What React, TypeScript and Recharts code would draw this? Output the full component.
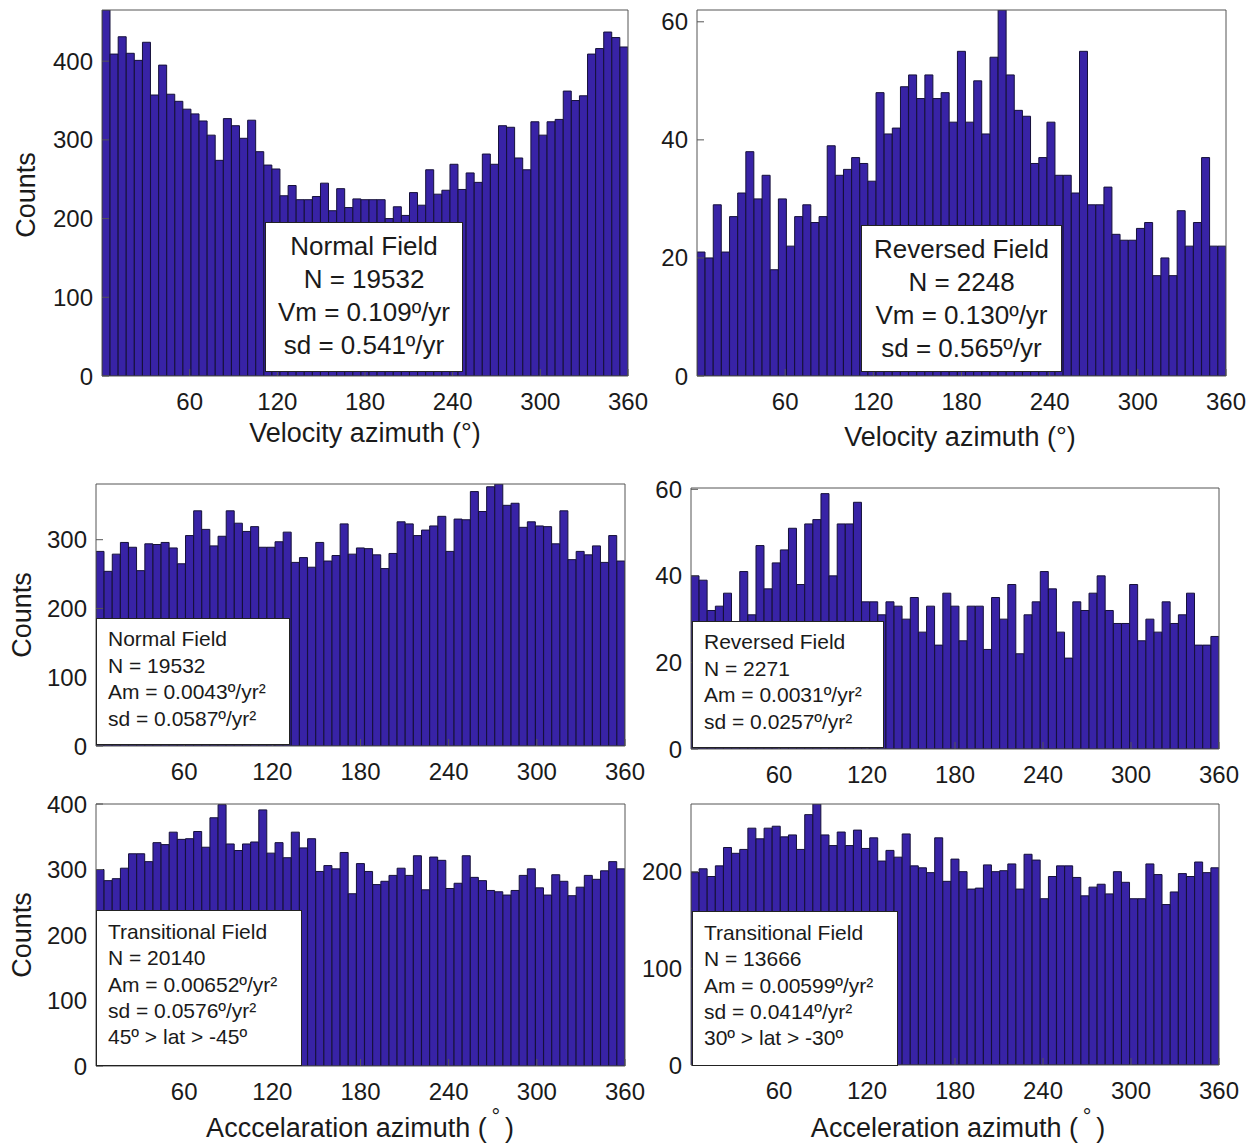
import React from 'react';
import { BarChart, Bar, XAxis, YAxis } from 'recharts';

// Azimuth histograms, 65 bins over 0-360 degrees
const azimuthTicks = [60, 120, 180, 240, 300, 360];
const binCount = 65;
const binCenters = Array.from({ length: binCount }, (_, i) => ((i + 0.5) * 360) / binCount);

const velocityNormal = [
  465, 409, 431, 410, 401, 424, 357, 395, 358, 349, 339, 333, 324, 306, 274, 327, 318, 302, 325, 285,
  268, 263, 229, 242, 224, 224, 228, 245, 210, 238, 214, 225, 224, 224, 224, 200, 215, 204, 233, 217,
  262, 231, 236, 269, 237, 258, 246, 282, 269, 318, 316, 277, 262, 323, 306, 323, 326, 362, 350, 356,
  409, 416, 437, 430, 418,
];
const velocityReversed = [
  21, 20, 29, 21, 27, 31, 38, 30, 34, 18, 30, 22, 27, 29, 26, 27, 39, 34, 35, 37,
  36, 33, 48, 41, 42, 49, 51, 47, 51, 47, 48, 43, 55, 43, 50, 41, 54, 62, 51, 45,
  44, 36, 37, 43, 34, 34, 31, 55, 29, 29, 32, 24, 23, 23, 25, 26, 17, 20, 17, 28,
  22, 26, 37, 22, 22,
];
const accelNormal = [
  283, 254, 279, 296, 289, 255, 294, 293, 296, 288, 265, 306, 342, 315, 291, 305, 342, 324, 312, 319,
  289, 289, 297, 311, 267, 274, 260, 296, 269, 277, 323, 279, 288, 287, 278, 258, 280, 326, 323, 306,
  314, 320, 334, 283, 330, 329, 370, 341, 377, 381, 350, 353, 318, 326, 320, 319, 294, 342, 271, 283,
  278, 291, 267, 306, 269,
];
const accelReversed = [
  40, 39, 32, 33, 36, 22, 41, 31, 47, 37, 43, 46, 51, 38, 52, 53, 59, 40, 52, 52,
  57, 34, 34, 31, 34, 33, 30, 35, 27, 33, 24, 36, 33, 25, 33, 33, 23, 35, 30, 38,
  22, 31, 34, 41, 37, 27, 21, 34, 32, 36, 40, 32, 29, 29, 38, 25, 30, 27, 34, 29,
  31, 36, 24, 24, 26,
];
const accelTransitional45 = [
  300, 283, 286, 302, 324, 324, 312, 341, 338, 357, 346, 347, 358, 334, 379, 399, 339, 329, 339, 342,
  391, 325, 341, 318, 357, 333, 347, 297, 306, 301, 326, 263, 309, 297, 277, 282, 291, 302, 291, 321,
  269, 319, 314, 271, 279, 321, 288, 283, 268, 266, 261, 268, 291, 301, 272, 261, 292, 282, 260, 273,
  291, 285, 298, 312, 301,
];
const accelTransitional30 = [
  199, 203, 195, 206, 225, 219, 223, 245, 234, 245, 247, 236, 238, 223, 259, 270, 238, 227, 241, 227,
  243, 224, 235, 211, 222, 215, 239, 206, 204, 199, 235, 190, 213, 200, 182, 183, 207, 200, 201, 208,
  182, 218, 212, 172, 195, 206, 206, 194, 175, 184, 187, 177, 200, 189, 172, 172, 208, 197, 166, 179,
  198, 195, 210, 199, 204,
];

const FONT = '"Liberation Sans", Arial, Helvetica, sans-serif';
const BAR_FILL = '#3823a6';
const BAR_EDGE = '#15103a';
const FRAME = '#555';

const PAD_L = 90;
const PAD_T = 12;
const PAD_R = 45;
const PAD_B = 45;

interface PanelProps {
  x: number;
  y: number;
  w: number;
  h: number;
  counts: number[];
  yMax: number;
  yTicks: number[];
}

const Panel: React.FC<PanelProps> = ({ x, y, w, h, counts, yMax, yTicks }) => {
  const data = counts.map((c, i) => ({ az: binCenters[i], count: c }));
  const tickStyle = { fontSize: 24, fill: '#1a1a1a', fontFamily: FONT };
  return (
    <div style={{ position: 'absolute', left: x - PAD_L, top: y - PAD_T }}>
      <BarChart
        width={w + PAD_L + PAD_R}
        height={h + PAD_T + PAD_B}
        data={data}
        margin={{ top: PAD_T - 1, right: PAD_R - 1, bottom: 0, left: 0 }}
        barCategoryGap={0}
        barGap={0}
      >
        <XAxis
          dataKey="az"
          type="number"
          domain={[0, 360]}
          ticks={azimuthTicks}
          allowDataOverflow
          interval={0}
          height={PAD_B}
          tickSize={-7}
          tickMargin={24}
          stroke={FRAME}
          tick={tickStyle}
        />
        {/* top and right axes only close the box, with inward ticks */}
        <XAxis
          xAxisId="top"
          orientation="top"
          dataKey="az"
          type="number"
          domain={[0, 360]}
          ticks={azimuthTicks}
          allowDataOverflow
          interval={0}
          height={1}
          tickSize={-7}
          tick={false}
          stroke={FRAME}
        />
        <YAxis
          type="number"
          domain={[0, yMax]}
          ticks={yTicks}
          allowDataOverflow
          interval={0}
          width={PAD_L}
          tickSize={-7}
          tickMargin={16}
          stroke={FRAME}
          tick={tickStyle}
        />
        <YAxis
          yAxisId="right"
          orientation="right"
          type="number"
          domain={[0, yMax]}
          ticks={yTicks}
          allowDataOverflow
          interval={0}
          width={1}
          tickSize={-7}
          tick={false}
          stroke={FRAME}
        />
        <Bar dataKey="count" fill={BAR_FILL} stroke={BAR_EDGE} strokeWidth={1} isAnimationActive={false} />
        <Bar
          xAxisId="top"
          yAxisId="right"
          dataKey="count"
          fill="none"
          stroke="none"
          isAnimationActive={false}
        />
      </BarChart>
    </div>
  );
};

interface InfoBoxProps {
  left: number;
  top: number;
  width: number;
  height: number;
  lines: string[];
  fontSize: number;
  lineHeight: number;
  padTop: number;
  centered?: boolean;
}

const InfoBox: React.FC<InfoBoxProps> = ({ left, top, width, height, lines, fontSize, lineHeight, padTop, centered }) => (
  <div
    style={{
      position: 'absolute',
      left,
      top,
      width,
      height,
      boxSizing: 'border-box',
      background: '#fff',
      border: '1px solid #222',
      paddingTop: padTop,
      paddingLeft: centered ? 0 : 11,
      textAlign: centered ? 'center' : 'left',
      fontSize,
      lineHeight: `${lineHeight}px`,
      color: '#1a1a1a',
      whiteSpace: 'nowrap',
    }}
  >
    {lines.map((l) => (
      <div key={l}>{l}</div>
    ))}
  </div>
);

const AxisTitle: React.FC<{ cx: number; cy: number; vertical?: boolean; children: React.ReactNode }> = ({
  cx,
  cy,
  vertical,
  children,
}) => (
  <div
    style={{
      position: 'absolute',
      left: cx,
      top: cy,
      transform: `translate(-50%, -50%)${vertical ? ' rotate(-90deg)' : ''}`,
      fontSize: 27,
      color: '#1a1a1a',
      whiteSpace: 'nowrap',
    }}
  >
    {children}
  </div>
);

const RaisedDegree = () => (
  <span>
    (<span style={{ position: 'relative', top: '-0.6em', margin: '0 0.22em', fontSize: '0.8em' }}>°</span>)
  </span>
);

const App: React.FC = () => (
  <div
    style={{
      position: 'absolute',
      left: 0,
      top: 0,
      width: 1253,
      height: 1147,
      background: '#fff',
      fontFamily: FONT,
      overflow: 'hidden',
    }}
  >
    <Panel x={102} y={10} w={526} h={366} counts={velocityNormal} yMax={465} yTicks={[0, 100, 200, 300, 400]} />
    <Panel x={697} y={10} w={529} h={366} counts={velocityReversed} yMax={62} yTicks={[0, 20, 40, 60]} />
    <Panel x={96} y={484} w={529} h={262} counts={accelNormal} yMax={381} yTicks={[0, 100, 200, 300]} />
    <Panel x={691} y={488} w={528} h={261} counts={accelReversed} yMax={60.3} yTicks={[0, 20, 40, 60]} />
    <Panel x={96} y={804} w={529} h={262} counts={accelTransitional45} yMax={400} yTicks={[0, 100, 200, 300, 400]} />
    <Panel x={691} y={804} w={528} h={261} counts={accelTransitional30} yMax={270} yTicks={[0, 100, 200]} />

    <InfoBox left={265} top={222} width={198} height={150} fontSize={26} lineHeight={33} padTop={7}
      centered lines={['Normal Field', 'N = 19532', 'Vm = 0.109º/yr', 'sd = 0.541º/yr']} />
    <InfoBox left={861} top={225} width={201} height={147} fontSize={26} lineHeight={33} padTop={7}
      centered lines={['Reversed Field', 'N = 2248', 'Vm = 0.130º/yr', 'sd = 0.565º/yr']} />
    <InfoBox left={96} top={618} width={194} height={127} fontSize={21} lineHeight={26.7} padTop={7}
      lines={['Normal Field', 'N = 19532', 'Am = 0.0043º/yr²', 'sd = 0.0587º/yr²']} />
    <InfoBox left={692} top={621} width={192} height={127} fontSize={21} lineHeight={26.7} padTop={7}
      lines={['Reversed Field', 'N = 2271', 'Am = 0.0031º/yr²', 'sd = 0.0257º/yr²']} />
    <InfoBox left={96} top={910} width={206} height={156} fontSize={21} lineHeight={26.3} padTop={8}
      lines={['Transitional Field', 'N = 20140', 'Am = 0.00652º/yr²', 'sd = 0.0576º/yr²', '45º > lat > -45º']} />
    <InfoBox left={692} top={911} width={206} height={155} fontSize={21} lineHeight={26.3} padTop={8}
      lines={['Transitional Field', 'N = 13666', 'Am = 0.00599º/yr²', 'sd = 0.0414º/yr²', '30º > lat > -30º']} />

    <AxisTitle cx={26} cy={195} vertical>Counts</AxisTitle>
    <AxisTitle cx={22} cy={615} vertical>Counts</AxisTitle>
    <AxisTitle cx={22} cy={935} vertical>Counts</AxisTitle>
    <AxisTitle cx={365} cy={433}>Velocity azimuth (°)</AxisTitle>
    <AxisTitle cx={960} cy={437}>Velocity azimuth (°)</AxisTitle>
    <AxisTitle cx={360} cy={1128}>Acccelaration azimuth <RaisedDegree /></AxisTitle>
    <AxisTitle cx={958} cy={1128}>Acceleration azimuth <RaisedDegree /></AxisTitle>
  </div>
);

export default App;
